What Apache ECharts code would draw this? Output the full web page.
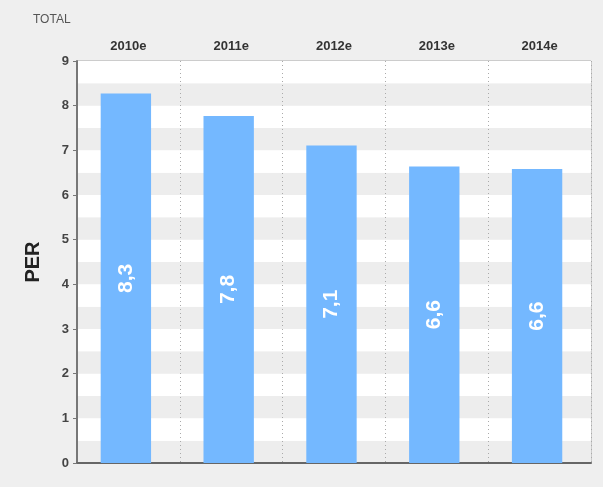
<!DOCTYPE html>
<html style="height: 100%">
<head>
  <meta charset="utf-8">
  <script type="text/javascript" src="https://cdn.jsdelivr.net/npm/echarts@6/dist/echarts.min.js"></script>
</head>
<body style="height: 100%; margin: 0; background: #efefef">
  <div id="container" style="width: 603px; height: 487px"></div>
  <script type="text/javascript">
    var years = ['2010e', '2011e', '2012e', '2013e', '2014e'];
    var per = [8.27, 7.77, 7.11, 6.64, 6.58];
    var yTicks = [0, 1, 2, 3, 4, 5, 6, 7, 8, 9];

    var myChart = echarts.init(document.getElementById('container'));

    var option = {
      backgroundColor: '#efefef',
      animation: false,
      title: {
        text: 'TOTAL',
        left: 28,
        top: 9,
        textStyle: { fontFamily: 'Liberation Sans', fontSize: 12, fontWeight: 'normal', color: '#555' }
      },
      grid: {
        left: 77, right: 12, top: 61, bottom: 24,
        show: true, backgroundColor: '#fff', borderColor: '#a8a8a8', borderWidth: 1
      },
      xAxis: [{
        type: 'category',
        position: 'top',
        data: years,
        axisLine: { show: false },
        axisTick: { show: false },
        axisLabel: {
          margin: 8,
          fontFamily: 'Liberation Sans', fontSize: 13, fontWeight: 'bold', color: '#333'
        },
        splitLine: {
          show: true,
          lineStyle: { color: '#aaa', type: [1, 3], width: 1 }
        }
      }, {
        // bottom frame line only
        type: 'category',
        position: 'bottom',
        data: years,
        axisLine: { show: true, lineStyle: { color: '#666', width: 2 } },
        axisTick: { show: false },
        axisLabel: { show: false },
        splitLine: { show: false }
      }],
      yAxis: [{
        type: 'value',
        min: 0, max: 9, interval: 1,
        name: 'PER',
        nameLocation: 'middle',
        nameGap: 34,
        nameTextStyle: { fontFamily: 'Liberation Sans', fontSize: 20, fontWeight: 'bold', color: '#222' },
        axisLine: { show: true, lineStyle: { color: '#777', width: 2 } },
        axisTick: { show: true, length: 4, lineStyle: { color: '#777' } },
        axisLabel: {
          margin: 8,
          fontFamily: 'Liberation Sans', fontSize: 13, fontWeight: 'bold', color: '#444',
          formatter: function (v) { return yTicks.indexOf(v) >= 0 ? String(v) : ''; }
        },
        splitLine: { show: false }
      }, {
        type: 'value',
        min: 0, max: 9, interval: 0.5,
        position: 'left',
        axisLine: { show: false },
        axisTick: { show: false },
        axisLabel: { show: false },
        splitLine: { show: false },
        splitArea: { show: true, areaStyle: { color: ['#ededed', '#ffffff'] } }
      }],
      series: [{
        type: 'bar',
        data: per,
        barWidth: '49%',
        itemStyle: { color: '#74b8ff' },
        label: {
          show: true,
          position: 'inside',
          rotate: 90,
          fontFamily: 'Liberation Sans',
          fontSize: 21,
          fontWeight: 'bold',
          color: '#fff',
          formatter: function (p) { return p.value.toFixed(1).replace('.', ','); }
        }
      }, {
        type: 'bar',
        yAxisIndex: 1,
        data: [],
        silent: true
      }]
    };

    myChart.setOption(option);
  </script>
</body>
</html>
